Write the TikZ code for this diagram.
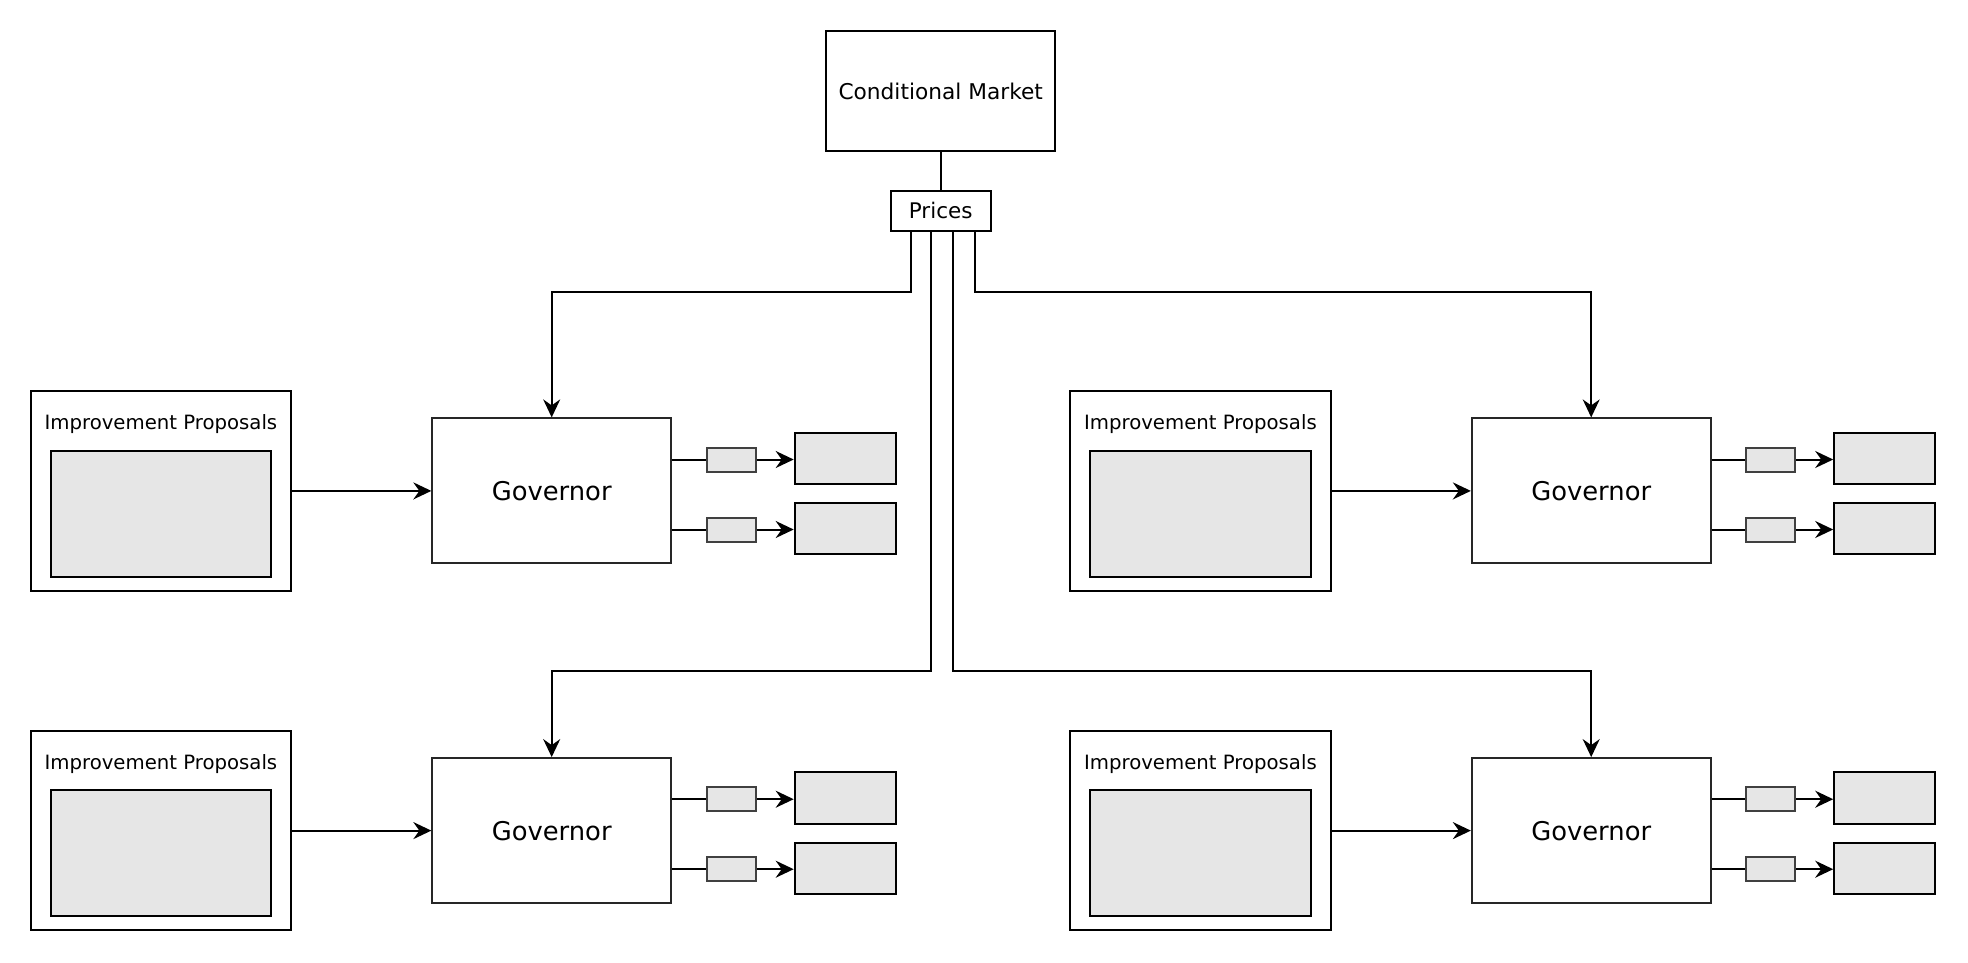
\documentclass[tikz,border=0pt]{standalone}
\usepackage{fontspec}
\setmainfont{DejaVu Sans}
\usetikzlibrary{arrows.meta}
\definecolor{boxgray}{HTML}{E6E6E6}
\tikzset{
  box/.style={draw=black, line width=2pt, fill=white, inner sep=0pt},
  grayin/.style={draw=black, line width=2pt, fill=boxgray, inner sep=0pt, minimum width=220.3pt, minimum height=126pt},
  govbox/.style={draw=black!85, line width=2pt, fill=white, inner sep=0pt, minimum width=238.7pt, minimum height=145pt, font=\fontsize{25.8}{30}\selectfont},
  smallbox/.style={draw=black!75, line width=2pt, fill=boxgray, inner sep=0pt, minimum width=49.3pt, minimum height=24pt},
  outbox/.style={draw=black, line width=2pt, fill=boxgray, inner sep=0pt, minimum width=101pt, minimum height=51.3pt},
  iptext/.style={inner sep=0pt, font=\fontsize{19.7}{24}\selectfont},
  conn/.style={draw=black, line width=2pt},
  arr/.style={conn, -{Stealth[length=18pt,width=17pt,inset=6pt]}},
}
\begin{document}
\begin{tikzpicture}[x=1pt,y=-1pt]
\useasboundingbox (0,0) rectangle (1968,962);
\node[box, minimum width=229.5pt, minimum height=120pt, font=\fontsize{21.7}{26}\selectfont] (cm) at (940.7,91) {Conditional Market};
\node[box, minimum width=100.3pt, minimum height=40pt, font=\fontsize{21.5}{26}\selectfont] (prices) at (940.7,210.7) {Prices};
\draw[conn] (cm.south) -- (prices.north);
\foreach \n/\dx/\dy in {TL/0/0, TR/1039.5/0, BL/0/339.7, BR/1039.5/339.7}{
  \node[box, minimum width=260.3pt, minimum height=199.7pt] (ip\n) at (160.9+\dx,490.9+\dy) {};
  \node[grayin] (ipin\n) at (160.9+\dx,513.7+\dy) {};
  \node[iptext] (iplab\n) at (160.9+\dx,424.5+\dy) {Improvement Proposals};
  \node[govbox] (gov\n) at (551.7+\dx,490.9+\dy) {Governor};
  \draw[arr] (ip\n.east) -- (gov\n.west);
  \node[smallbox] (sa\n) at (731.3+\dx,459.5+\dy) {};
  \node[smallbox] (sb\n) at (731.3+\dx,529.5+\dy) {};
  \node[outbox] (oa\n) at (845.2+\dx,458.4+\dy) {};
  \node[outbox] (ob\n) at (845.2+\dx,528.5+\dy) {};
  \draw[conn] (gov\n.east |- sa\n) -- (sa\n.west);
  \draw[conn] (gov\n.east |- sb\n) -- (sb\n.west);
  \draw[arr] (sa\n.east) -- (sa\n.east -| oa\n.west);
  \draw[arr] (sb\n.east) -- (sb\n.east -| ob\n.west);
}
\draw[arr] ([xshift=-29.8pt]prices.south) -- ++(0,60.5) -| (govTL.north);
\draw[arr] ([xshift=34.2pt]prices.south) -- ++(0,60.5) -| (govTR.north);
\draw[arr] ([xshift=-9.8pt]prices.south) -- ++(0,439.5) -| (govBL.north);
\draw[arr] ([xshift=11.9pt]prices.south) -- ++(0,439.5) -| (govBR.north);
\end{tikzpicture}
\end{document}
